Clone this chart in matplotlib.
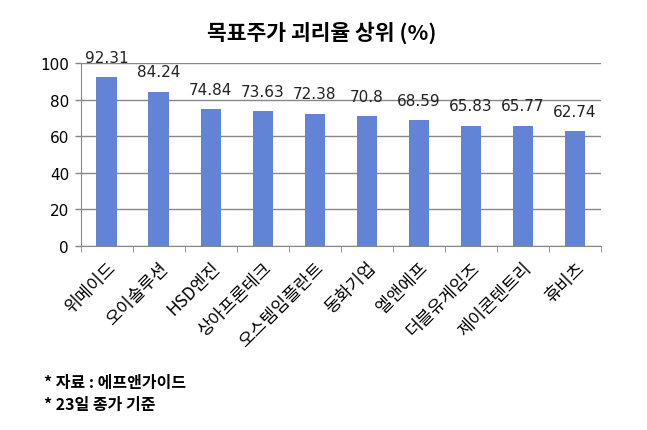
import matplotlib
matplotlib.use("Agg")
import matplotlib.pyplot as plt
from matplotlib.ticker import FixedLocator

plt.rcParams['font.family'] = ['Noto Sans CJK KR', 'DejaVu Sans']

categories = ['위메이드', '오이솔루션', 'HSD엔진', '상아프론테크', '오스템임플란트',
              '동화기업', '엘앤에프', '더블유게임즈', '제이콘텐트리', '휴비츠']
values = [92.31, 84.24, 74.84, 73.63, 72.38, 70.8, 68.59, 65.83, 65.77, 62.74]
value_labels = ['92.31', '84.24', '74.84', '73.63', '72.38', '70.8', '68.59', '65.83', '65.77', '62.74']
yticks = [0, 20, 40, 60, 80, 100]

fig = plt.figure(figsize=(6.47, 4.31), dpi=100)
ax = fig.add_axes([0.125, 0.427, 0.804, 0.4245])

x = list(range(len(categories)))
ax.bar(x, values, width=0.4, color='#6383D7', zorder=3)
for xi, v, lab in zip(x, values, value_labels):
    ax.annotate(lab, (xi, v), xytext=(0, 9), textcoords='offset points',
                ha='center', va='bottom', fontsize=11, color='#222222',
                family=['DejaVu Sans'])

ax.set_xlim(-0.5, len(categories) - 0.5)
ax.set_ylim(0, 100)
ax.set_yticks(yticks)
ax.set_yticklabels([str(t) for t in yticks], family=['DejaVu Sans'])
ax.yaxis.grid(True, color='#888888', linewidth=1, zorder=0)
ax.tick_params(axis='y', length=4.5, width=1, color='#888888', labelsize=11, pad=4)
ax.set_xticks(x)
ax.set_xticklabels(categories, rotation=45, ha='right', rotation_mode='anchor', fontsize=12.5)
ax.xaxis.set_minor_locator(FixedLocator([i - 0.5 for i in range(len(categories) + 1)]))
ax.tick_params(axis='x', which='major', length=0, pad=9)
ax.tick_params(axis='x', which='minor', length=4, color='#888888')
for s in ['top', 'right']:
    ax.spines[s].set_visible(False)
ax.spines['left'].set_color('#888888')
ax.spines['bottom'].set_color('#888888')

fig.text(0.497, 0.925, '목표주가 괴리율 상위 (%)', ha='center', va='center', fontsize=15.5, fontweight='bold')
fig.text(0.068, 0.112, '* 자료 : 에프앤가이드', ha='left', va='center', fontsize=11.5, fontweight='bold')
fig.text(0.068, 0.060, '* 23일 종가 기준', ha='left', va='center', fontsize=11.5, fontweight='bold')

fig.savefig('out.png', dpi=100)
